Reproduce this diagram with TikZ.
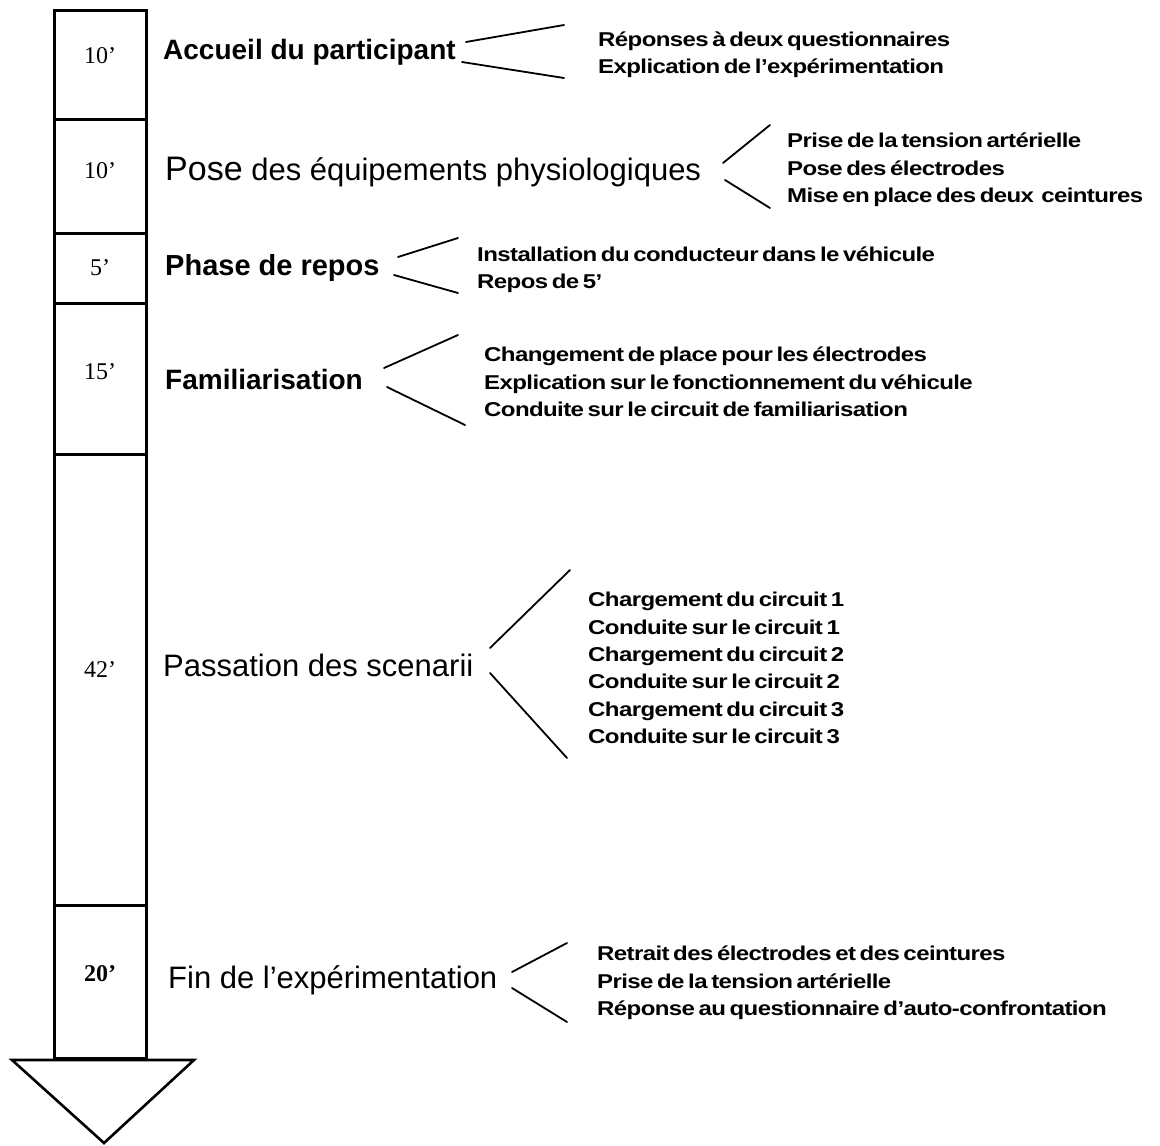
\documentclass[tikz,border=0pt]{standalone}
\usepackage{fontspec}
\setmainfont{Liberation Sans}
\newfontfamily\durf{Liberation Serif}
\newfontfamily\subf[FakeStretch=1.2,LetterSpace=-3,WordSpace=0.6]{Liberation Sans Bold}
\newfontfamily\titf{Liberation Sans}
\begin{document}
\begin{tikzpicture}[x=1pt,y=-1pt,
  col/.style={line width=3pt,line join=miter},
  div/.style={line width=3pt},
  dur/.style={font=\durf\fontsize{24}{26}\selectfont,inner sep=0pt},
  titB/.style={font=\titf\bfseries\fontsize{28}{30}\selectfont,anchor=west,inner sep=0pt},
  titR/.style={font=\titf\fontsize{31}{32}\selectfont,anchor=west,inner sep=0pt},
  sub/.style={font=\subf\fontsize{20}{27.4}\selectfont,anchor=west,align=left,inner sep=0pt},
  conn/.style={line width=1.8pt,line cap=round}]
\useasboundingbox (0,0) rectangle (1160,1146);
% column
\coordinate (ctl) at (54,10);
\coordinate (ctr) at (146,10);
\coordinate (cbl) at (54,1058);
\coordinate (cbr) at (146,1058);
\draw[col] (cbl) -- (ctl) -- (ctr) -- (cbr) -- cycle;
\foreach \yy/\nm in {119/d1,233/d2,303/d3,454/d4,905/d5}{
  \coordinate (\nm l) at (54,\yy);
  \coordinate (\nm r) at (146,\yy);
  \draw[div] (\nm l) -- (\nm r);
}
% arrow head
\coordinate (tl) at (12,1060);
\coordinate (tr) at (194,1060);
\coordinate (tt) at (104,1143);
\draw[line width=2.6pt,line join=miter] (tl) -- (tr) -- (tt) -- cycle;
% durations
\node[dur] (t1) at (100,56) {10’};
\node[dur] (t2) at (100,171) {10’};
\node[dur] (t3) at (100,268) {5’};
\node[dur] (t4) at (100,372) {15’};
\node[dur] (t5) at (100,670) {42’};
\node[dur,font=\durf\bfseries\fontsize{24}{26}\selectfont] (t6) at (100,974) {20’};
% titles
\node[titB] (p1) at (163,52) {Accueil du participant};
\node[titR] (p2) at (165,172) {{\fontsize{34}{34}\selectfont Pose} des équipements physiologiques};
\node[titB,font=\titf\bfseries\fontsize{29}{30}\selectfont] (p3) at (165,268) {Phase de repos};
\node[titB] (p4) at (165,379) {Familiarisation};
\node[titR] (p5) at (163,665) {Passation des scenarii};
\node[titR] (p6) at (168,980) {Fin de l’expérimentation};
% sub items
\node[sub] (s1) at (598,55) {Réponses à deux questionnaires\\Explication de l’expérimentation};
\node[sub] (s2) at (787,170) {Prise de la tension artérielle\\Pose des électrodes\\Mise en place des deux~ ceintures};
\node[sub] (s3) at (477,270) {Installation du conducteur dans le véhicule\\Repos de 5’};
\node[sub] (s4) at (484,382) {Changement de place pour les électrodes\\Explication sur le fonctionnement du véhicule\\Conduite sur le circuit de familiarisation};
\node[sub] (s5) at (588,668) {Chargement du circuit 1\\Conduite sur le circuit 1\\Chargement du circuit 2\\Conduite sur le circuit 2\\Chargement du circuit 3\\Conduite sur le circuit 3};
\node[sub] (s6) at (597,983) {Retrait des électrodes et des ceintures\\Prise de la tension artérielle\\Réponse au questionnaire d’auto-confrontation};
% connectors
\coordinate (a1) at (466,42); \coordinate (b1) at (564,25);
\coordinate (a2) at (462,62); \coordinate (b2) at (564,78);
\draw[conn] (a1) -- (b1); \draw[conn] (a2) -- (b2);
\coordinate (a3) at (723,163); \coordinate (b3) at (770,125);
\coordinate (a4) at (725,180); \coordinate (b4) at (770,208);
\draw[conn] (a3) -- (b3); \draw[conn] (a4) -- (b4);
\coordinate (a5) at (398,257); \coordinate (b5) at (458,238);
\coordinate (a6) at (394,275); \coordinate (b6) at (458,293);
\draw[conn] (a5) -- (b5); \draw[conn] (a6) -- (b6);
\coordinate (a7) at (384,368); \coordinate (b7) at (458,335);
\coordinate (a8) at (387,387); \coordinate (b8) at (465,425);
\draw[conn] (a7) -- (b7); \draw[conn] (a8) -- (b8);
\coordinate (a9) at (490,648); \coordinate (b9) at (570,570);
\coordinate (a10) at (490,673); \coordinate (b10) at (567,758);
\draw[conn] (a9) -- (b9); \draw[conn] (a10) -- (b10);
\coordinate (a11) at (512,972); \coordinate (b11) at (567,943);
\coordinate (a12) at (512,988); \coordinate (b12) at (567,1022);
\draw[conn] (a11) -- (b11); \draw[conn] (a12) -- (b12);
\end{tikzpicture}
\end{document}
